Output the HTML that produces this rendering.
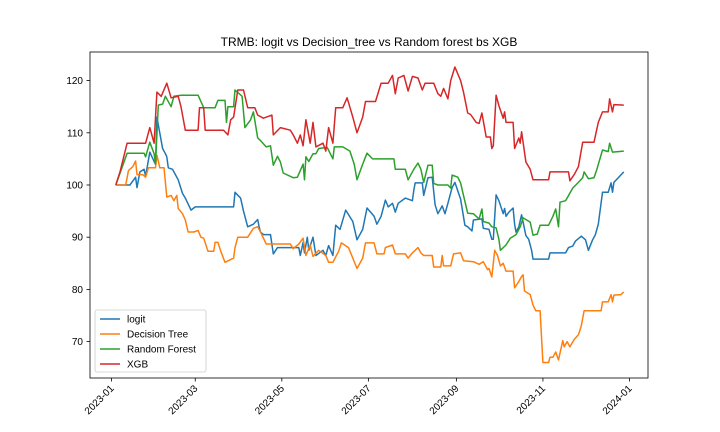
<!DOCTYPE html>
<html><head><meta charset="utf-8"><style>
body{margin:0;background:#fff;}
svg{display:block;font-family:"Liberation Sans","DejaVu Sans",sans-serif;}
</style></head><body>
<svg id="chart" width="720" height="432" viewBox="0 0 720 432" xmlns="http://www.w3.org/2000/svg">
<rect x="0" y="0" width="720" height="432" fill="#fff"/>
<text x="369" y="46" font-size="12" text-anchor="middle" fill="#000">TRMB: logit vs Decision_tree vs Random forest bs XGB</text>
<g id="marks"></g>
<g id="axes"></g>
<rect x="90" y="52" width="558" height="326" fill="none" stroke="#000" stroke-width="0.8"/>
<g id="legend"></g>
</svg>
<script>
// Day offsets from 2023-01-01 and values
const logitDays=[3,13,17,18,20,23,24,27,30,31,32,36,38,39,40,43,45,47,50,52,56,59,86,87,91,93,96,100,103,104,105,107,112,114,117,132,133,135,136,138,139,142,144,149,151,153,156,158,161,165,170,173,177,180,185,187,190,193,195,198,200,202,207,212,213,214,219,220,223,226,228,230,233,235,237,240,242,246,249,251,254,255,261,262,266,268,269,271,273,276,277,278,280,283,284,285,287,289,292,294,296,297,308,309,320,322,325,327,331,334,336,339,341,343,346,350,352,353,354,361];
const logitVals=[100,100,101.5,99.5,102.5,103,101.7,106.3,104.5,104,113,107,106,105.4,103.3,103,102,101,98.4,97.5,95.2,95.8,95.8,98.6,97.5,95,92,92.5,93.4,92,91,90.5,90.5,86.8,88,88,86.5,89,87,90,87.5,90,86.5,87.5,86.5,88.4,86.5,92.3,91.5,95.2,93,89.5,91.5,95.6,94,92.5,94,97.1,95.8,96.5,94.8,96.5,97.5,97,99,100.4,100.4,98,101.4,101.5,96.2,94.5,96,94.5,96.5,99.5,100.5,97.3,92.3,92,91.2,93.3,93.5,91.7,91.5,89.6,89.6,98.1,97,94.5,95.5,94,94.8,95.6,92.5,91,92,94.3,90.3,89.6,87.5,85.8,85.8,87,87,88,88.3,89.3,90.2,89.5,87.5,89.5,90.5,92.5,98.6,98.6,100.4,98.6,100.5,102.5];
const dtDays=[3,10,12,15,17,18,22,24,26,31,32,34,37,39,42,44,46,47,50,52,54,58,61,63,65,68,72,73,75,77,80,86,87,89,96,100,103,105,109,126,128,132,135,137,140,142,146,151,153,156,160,162,167,170,173,177,179,185,187,192,193,198,200,207,209,212,216,218,220,226,227,232,233,234,239,241,246,248,255,259,262,265,266,268,270,272,274,276,278,283,284,287,289,290,291,295,297,299,302,304,308,309,311,313,315,318,319,321,323,326,329,331,333,345,346,350,352,353,354,359,361];
const dtVals=[100,100,102.8,103.5,104.6,102,102,101.5,103.3,103.3,105.7,103.3,103.3,97.7,98,97,98,95.5,94.5,93.3,91,91,91.3,90,89.8,87.3,87.3,89,89,87.3,85.2,86,88,90,90,91.7,92,91,88.7,88.7,87.8,88.7,89.8,86.5,88.5,86.3,87.5,86.5,85.2,85.2,87.3,88.9,88,86,84,86,88.9,88.9,86.8,86.8,88,88.5,86.8,86.8,86,87,88,87,86.5,86.5,84.3,84.3,86.5,84.5,84.5,86.8,87,85.5,85.3,84.8,85.3,83.8,84,82.4,87.5,86.5,84.5,85,83.5,83.5,80.3,81.5,82.5,82.8,79.7,79,77,75.9,75.9,66,66,67,67,68,66.5,70.2,69,70,69,70.4,71.3,73,75.9,75.9,77.6,77.6,79,77.6,78.9,79,79.5];
const rfDays=[3,11,23,24,27,30,31,33,36,38,42,44,49,61,63,65,73,75,80,81,82,86,87,92,94,98,100,103,105,109,112,114,117,119,121,128,131,135,136,137,139,142,144,146,152,156,157,163,168,171,173,177,180,184,199,200,207,209,213,216,218,220,223,226,227,230,237,239,240,244,246,248,251,255,259,261,262,266,268,271,273,274,278,281,285,288,290,295,297,300,302,308,311,313,315,316,320,325,329,332,333,336,340,342,346,350,351,353,361];
const rfVals=[100,106.1,106.1,105.4,108.2,106,104,115.3,115.5,117,115,117,117.2,117.2,116,114.8,114.8,116.2,116.2,112,115,115,118.2,117,111,112.5,114,109,108.5,107.3,107.5,103.8,105.5,104.4,102.3,101.4,101.5,104,101,105.4,104.5,106,106,107,107.2,105,107.3,107.3,106.5,104,101,104,106.1,105,105,103,103,101,103,104.2,103,100.5,103.8,103.8,100.3,100,100,99.4,101.9,101.5,100.4,98,94.6,94.5,93.5,95.4,93,92.7,92,91.8,89.6,87.5,88.5,89.8,90.5,92,93.7,92.9,90.4,90.6,92.3,92.3,94,95.4,92,96.7,97,99.4,100.5,101.4,102.5,101.2,101.4,103,106.7,106.4,108,106.3,106.5];
const xgbDays=[3,6,11,24,27,30,32,35,39,42,47,49,52,61,62,65,66,79,82,84,86,89,93,96,101,103,107,113,114,119,126,128,131,133,135,137,140,142,144,149,151,153,156,158,163,166,170,173,177,179,186,190,195,198,200,202,206,209,212,216,219,221,227,230,232,234,237,239,242,246,248,251,253,257,259,261,264,267,268,269,271,273,276,277,278,283,284,287,288,289,292,295,297,308,309,322,323,326,329,332,340,343,346,350,351,353,354,361];
const xgbVals=[100,102.5,108,108,111,108,117.8,117,119.5,116.7,117,115,110.5,110.5,114.8,114.8,110.5,110.5,109.6,112.5,113,118.2,118.2,114.8,114.8,113.4,112.8,113.4,109.6,111,110.5,109.6,108,109.6,107.5,112.5,108,112,107.3,108,106.5,111,108,114.8,114.8,116.7,113,110,113,116,116,119.5,119.5,121,117.5,120.5,121,118,120.8,120.5,118.2,119.5,119.5,117.5,117,118.5,116.5,120,122.6,120,117.8,113.8,113.5,112,111.8,113.8,109.2,109.2,107,107.5,117.2,115.2,112.8,114,112,112,107,109,108,110.2,104.4,103,101,101,102.5,102.5,100.8,102,103.5,108.2,108.2,112,114,114,116.5,114,115.4,115.3];
const yTicks=[70,80,90,100,110,120];
const xTickDays=[0,59,120,181,243,304,365];
const xTickLabels=["2023-01","2023-03","2023-05","2023-07","2023-09","2023-11","2024-01"];
const seriesNames=["logit","Decision Tree","Random Forest","XGB"];
const seriesColors=["#1f77b4","#ff7f0e","#2ca02c","#d62728"];

const NS="http://www.w3.org/2000/svg";
function xS(d){return 111.5+d*1.4192;}
function yS(v){return 185-(v-100)*5.22;}
function mk(tag,attrs,parent){const e=document.createElementNS(NS,tag);for(const k in attrs)e.setAttribute(k,attrs[k]);parent.appendChild(e);return e;}
const axes=document.getElementById('axes');
yTicks.forEach(v=>{
  const y=yS(v);
  const t=mk('line',{x1:86.5,x2:90,y1:y,y2:y,stroke:'#000','stroke-width':0.8},axes);
  
  
  const l=mk('text',{x:83,y:y+3.5,'font-size':10,'text-anchor':'end',fill:'#000'},axes);
  
  
  l.textContent=v;
});
xTickDays.forEach((d,i)=>{
  const x=xS(d);
  const t=mk('line',{x1:x,x2:x,y1:378,y2:381.5,stroke:'#000','stroke-width':0.8},axes);
  
  
  const l=mk('text',{x:x+3,y:389,'font-size':10,'text-anchor':'end',fill:'#000',transform:`rotate(-45 ${x+3} 389)`},axes);
  
  
  l.textContent=xTickLabels[i];
});
const marks=document.getElementById('marks');
const allDays=[logitDays,dtDays,rfDays,xgbDays];
const allVals=[logitVals,dtVals,rfVals,xgbVals];
const lineNames=['logit-line','decision-tree-line','random-forest-line','xgb-line'];
allDays.forEach((ds,i)=>{
  const pts=ds.map((d,j)=>xS(d).toFixed(1)+','+yS(allVals[i][j]).toFixed(1)).join(' ');
  const p=mk('polyline',{points:pts,fill:'none',stroke:seriesColors[i],'stroke-width':1.5,'stroke-linejoin':'round'},marks);
  
  
});
const lg=document.getElementById('legend');
const box=mk('rect',{x:95,y:310,width:111,height:62,rx:2,fill:'#fff','fill-opacity':0.8,stroke:'#ccc','stroke-width':0.8},lg);


seriesNames.forEach((n,i)=>{
  const y=319+i*15;
  const ln=mk('line',{x1:100,x2:120,y1:y,y2:y,stroke:seriesColors[i],'stroke-width':1.5},lg);
  
  
  const t=mk('text',{x:127,y:y+3.5,'font-size':10,fill:'#000'},lg);
  
  
  t.textContent=n;
});
</script>
</body></html>
